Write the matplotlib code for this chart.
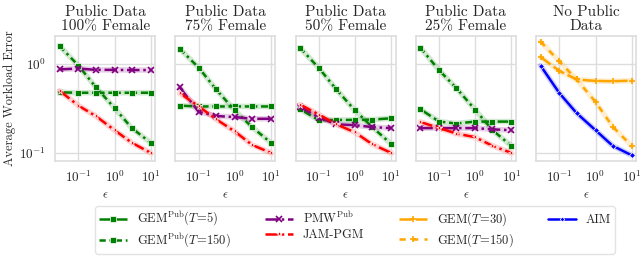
import numpy as np
import matplotlib
matplotlib.use("Agg")
import matplotlib.pyplot as plt
import seaborn as sns

sns.set_style("whitegrid")
plt.rcParams.update({
    'font.family': 'serif',
    'font.serif': ['cmr10', 'DejaVu Serif'],
    'mathtext.fontset': 'cm',
    'axes.formatter.use_mathtext': True,
    'axes.unicode_minus': False,
})

eps = [0.03, 0.1, 0.3, 1, 3, 10]
titles = ["Public Data\n100% Female", "Public Data\n75% Female",
          "Public Data\n50% Female", "Public Data\n25% Female", "No Public\nData"]

# values, one list per panel
gem_pub_5 = [
    [0.48, 0.475, 0.475, 0.475, 0.475, 0.475],
    [0.34, 0.333, 0.333, 0.333, 0.333, 0.333],
    [0.31, 0.233, 0.235, 0.235, 0.237, 0.245],
    [0.31, 0.225, 0.214, 0.225, 0.225, 0.225],
]
gem_pub_150 = [
    [1.59, 0.96, 0.55, 0.32, 0.19, 0.13],
    [1.48, 0.91, 0.52, 0.30, 0.195, 0.13],
    [1.52, 0.90, 0.52, 0.30, 0.195, 0.126],
    [1.53, 0.85, 0.535, 0.305, 0.18, 0.12],
]
pmw_pub = [
    [0.87, 0.89, 0.86, 0.86, 0.855, 0.855],
    [0.545, 0.29, 0.26, 0.253, 0.242, 0.242],
    [0.33, 0.25, 0.21, 0.205, 0.195, 0.19],
    [0.19, 0.19, 0.19, 0.19, 0.184, 0.18],
]
jam_pgm = [
    [0.50, 0.34, 0.26, 0.18, 0.13, 0.10],
    [0.47, 0.334, 0.24, 0.174, 0.123, 0.10],
    [0.35, 0.27, 0.21, 0.17, 0.125, 0.10],
    [0.223, 0.19, 0.165, 0.15, 0.12, 0.10],
]
gem_30 = [1.20, 0.836, 0.67, 0.645, 0.64, 0.65]
gem_150 = [1.79, 1.07, 0.67, 0.375, 0.197, 0.12]
aim = [0.96, 0.47, 0.28, 0.18, 0.12, 0.094]

styles = {
    'gp5': dict(color='green', marker='s', dashes=(5, 1.5), label=r'GEM$^{\mathrm{Pub}}(T\!=\!5)$'),
    'gp150': dict(color='green', marker='s', dashes=(2.5, 1.5, 1, 1.5), label=r'GEM$^{\mathrm{Pub}}(T\!=\!150)$'),
    'pmw': dict(color='purple', marker='x', dashes=(5, 1.5, 1, 1.5), label=r'PMW$^{\mathrm{Pub}}$'),
    'jam': dict(color='red', marker='*', dashes=(5, 1.5, 1, 1.5), label='JAM-PGM'),
    'g30': dict(color='orange', marker='+', dashes=(5, 1.5), label=r'GEM$(T\!=\!30)$'),
    'g150': dict(color='orange', marker='+', dashes=(2.5, 2.5), label=r'GEM$(T\!=\!150)$'),
    'aim': dict(color='blue', marker='D', dashes=(), label='AIM'),
}


def draw(ax, y, key):
    s = styles[key]
    ax.plot(eps, y, color=s['color'], lw=4, alpha=0.18, solid_capstyle='round')
    ls = '-' if not s['dashes'] else (0, s['dashes'])
    ms = 3 if s['marker'] == 'D' else 5
    ax.plot(eps, y, color=s['color'], marker=s['marker'], ms=ms, lw=1.8,
            linestyle=ls, mec='white' if s['marker'] in 'sD*' else s['color'],
            mew=0.5 if s['marker'] in 'sD*' else 1.2, label=s['label'])


fig, axes = plt.subplots(1, 5, figsize=(6.4, 2.6), dpi=100, sharey=True)
fig.subplots_adjust(left=0.086, right=0.994, top=0.862, bottom=0.381, wspace=0.2)

for i, ax in enumerate(axes):
    if i < 4:
        draw(ax, gem_pub_5[i], 'gp5')
        draw(ax, gem_pub_150[i], 'gp150')
        draw(ax, pmw_pub[i], 'pmw')
        draw(ax, jam_pgm[i], 'jam')
    else:
        draw(ax, gem_30, 'g30')
        draw(ax, gem_150, 'g150')
        draw(ax, aim, 'aim')
    ax.set_xscale('log')
    ax.set_yscale('log')
    ax.set_title(titles[i], fontsize=11, pad=4, linespacing=1.1)
    ax.set_xlabel(r'$\epsilon$', fontsize=9, labelpad=3)
    ax.tick_params(labelsize=9.5, pad=3)
    ax.minorticks_off()
    ax.grid(True, which='major', color='#dddddd', lw=1)
    for sp in ax.spines.values():
        sp.set_color('#dddddd')
        sp.set_linewidth(1.2)
    ax.set_xticks([0.1, 1, 10])

axes[0].set_ylabel('Average Workload Error', fontsize=9, labelpad=2)
axes[0].set_yticks([0.1, 1])

# tick labels use the sans mathtext look of the reference
for ax in axes:
    for lbl in ax.get_xticklabels() + ax.get_yticklabels():
        lbl.set_math_fontfamily('dejavusans')

handles = []
labels = []
for ax in axes:
    h, l = ax.get_legend_handles_labels()
    for hh, ll in zip(h, l):
        if ll not in labels:
            handles.append(hh)
            labels.append(ll)
fig.legend(handles, labels, loc='lower center', bbox_to_anchor=(0.555, 0.0),
           ncol=4, fontsize=9, frameon=True, edgecolor='#dddddd',
           handlelength=2.2, columnspacing=2.8, labelspacing=0.25, borderpad=0.3,
           markerscale=0.8)

fig.savefig('out.png', dpi=100)
